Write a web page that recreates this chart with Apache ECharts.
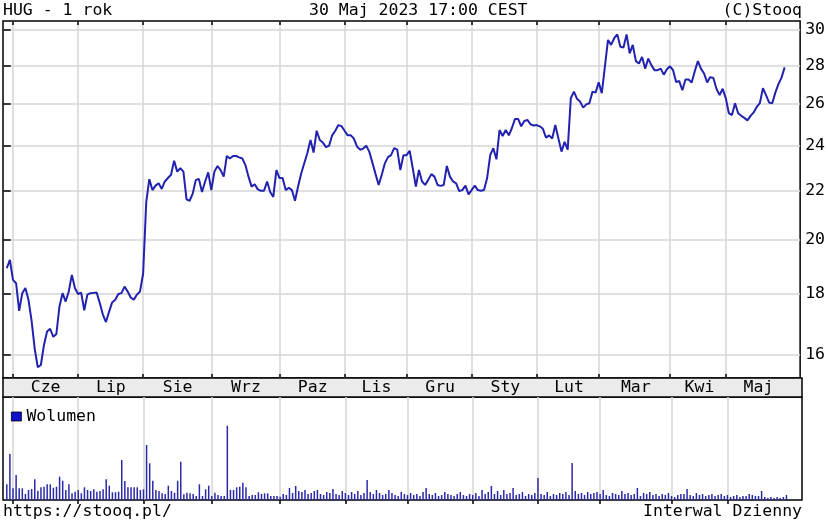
<!DOCTYPE html>
<html>
<head>
<meta charset="utf-8">
<script src="https://cdn.jsdelivr.net/npm/echarts@6/dist/echarts.min.js"></script>
<style>
html,body{margin:0;padding:0;background:#fff;}
#c{width:828px;height:525px;}
</style>
</head>
<body>
<div id="c"></div>
<script>
// ---- data (daily trading sessions, 30 May 2022 .. 30 May 2023) ----
const prices = [
 18.92,19.23,18.50,18.38,17.42,18.03,18.21,17.80,17.10,16.20,
 15.62,15.69,16.31,16.74,16.83,16.57,16.66,17.57,18.03,17.74,
 18.09,18.68,18.20,18.00,18.05,17.44,17.98,18.03,18.04,18.05,
 17.69,17.30,17.05,17.39,17.71,17.80,18.00,18.03,18.26,18.09,
 17.88,17.80,17.98,18.09,18.73,21.50,22.48,22.01,22.20,22.30,
 22.06,22.38,22.53,22.67,23.30,22.81,22.96,22.81,21.62,21.56,
 21.86,22.45,22.49,21.93,22.38,22.78,22.01,22.81,23.06,22.88,
 22.59,23.51,23.40,23.51,23.51,23.45,23.40,23.10,22.59,22.16,
 22.26,22.04,21.98,21.98,22.38,21.93,21.72,22.88,22.53,22.53,
 22.01,22.11,22.01,21.56,22.16,22.73,23.18,23.65,24.25,23.67,
 24.69,24.25,24.13,23.92,23.98,24.47,24.69,24.96,24.91,24.69,
 24.47,24.47,24.32,23.95,23.80,23.85,23.98,23.70,23.20,22.70,
 22.23,22.67,23.18,23.46,23.55,23.87,23.80,22.88,23.55,23.55,
 23.75,22.96,22.16,22.88,22.38,22.23,22.45,22.70,22.59,22.23,
 22.19,22.23,23.06,22.59,22.38,22.30,21.97,22.01,22.20,21.83,
 22.01,22.20,22.01,21.98,22.01,22.53,23.55,23.87,23.36,24.72,
 24.44,24.72,24.47,24.82,25.26,25.26,24.90,25.16,25.21,25.00,
 24.94,24.96,24.90,24.78,24.36,24.47,24.32,24.96,24.32,23.71,
 24.16,23.80,26.29,26.63,26.26,26.12,25.82,25.98,26.04,26.63,
 26.58,27.11,26.55,27.95,29.43,29.15,29.53,29.75,29.05,29.00,
 29.75,28.68,29.15,28.25,28.12,28.48,27.84,28.39,28.03,27.76,
 27.76,27.84,27.52,27.81,27.97,27.76,27.13,27.18,26.70,27.26,
 27.26,27.11,27.70,28.25,27.84,27.58,27.11,27.39,27.34,26.78,
 26.45,26.78,26.30,25.54,25.45,26.04,25.54,25.41,25.31,25.19,
 25.41,25.58,25.85,26.04,26.81,26.45,26.07,26.04,26.58,27.02,
 27.36,27.91
];
// volume (thousands of shares)
const volume = [
 15.7,46,11.7,25,11.7,11.7,6,10,11,20.7,
 9.3,12.7,13.3,15.7,15.7,12.3,13.3,23.3,19.3,10,
 15.7,6.7,8.3,10,6.7,12.7,10,9,10.7,8.3,
 9,10.7,20.7,14.3,7.7,7.7,8.3,40,19,12.7,
 12.7,12.7,12.7,10,10.7,55,36.7,19.3,10,9,
 6.7,6,14.3,9,7.3,19.3,38.3,5.7,7.3,6.7,
 6,4,15.7,4,10.7,14.3,4,7.3,5,4,
 4,74.3,10,10,12.7,13.3,17.3,12.7,4,5,
 5,7.7,6,6.7,6.7,4,4,4,3.3,6,
 5,12,7,14,9,8,10,6,7,9,
 10,6,5,8,7,11,6,5,9,7,
 5,8,6,9,5,7,20,8,6,10,
 7,5,6,10,7,5,4,8,6,5,
 7,5,6,4,8,12,6,5,7,4,
 5,8,6,5,4,6,8,5,4,6,
 5,7,4,10,6,8,14,6,9,5,
 10,6,7,12,5,6,8,4,6,5,
 7,22,6,5,8,4,6,5,7,6,
 8,5,37,9,6,7,5,8,6,7,
 8,6,10,5,4,7,6,5,9,6,
 7,5,6,12,4,7,6,8,5,6,
 4,6,5,7,4,3,5,6,6,11,
 5,4,7,5,6,4,5,6,4,5,
 6,4,5,3,4,5,3,4,4,6,
 5,4,4,9,3,2,3,2,3,2,
 3,5
];
const monthStarts = [2, 23, 44, 66, 88, 109, 129, 150, 171, 191, 214, 232];
const monthNames = ['Cze','Lip','Sie','Wrz','Paz','Lis','Gru','Sty','Lut','Mar','Kwi','Maj'];
const priceTicks = [16, 18, 20, 22, 24, 26, 28, 30];
const PRICE_MIN = 15.3, PRICE_MAX = 30.53;
const X_MIN = -1.22, X_MAX = 256.0;
const VOL_MAX = 103;

// ---- build ----
const FONT = 'DejaVu Sans Mono';
const FS = 16.5;
const monthMid = monthStarts.map((s, k) => (s + (k + 1 < monthStarts.length ? monthStarts[k + 1] : prices.length)) / 2);
const labelMap = {};
monthMid.forEach((m, k) => { labelMap[m.toFixed(2)] = monthNames[k]; });
const lnTicks = priceTicks.map(v => Math.log(v));
const gridLineStyle = { color: '#d6d6d6', width: 1.5 };
const tickStyle = { color: '#000', width: 1.5 };

const chart = echarts.init(document.getElementById('c'), null, { renderer: 'canvas' });
chart.setOption({
  animation: false,
  backgroundColor: '#fff',
  textStyle: { fontFamily: FONT },
  title: [
    { text: 'HUG - 1 rok', left: -2, top: -3, textStyle: { fontFamily: FONT, fontSize: FS, fontWeight: 'normal', color: '#000' } },
    { text: '30 Maj 2023 17:00 CEST', left: 304, top: -3, textStyle: { fontFamily: FONT, fontSize: FS, fontWeight: 'normal', color: '#000' } },
    { text: '(C)Stooq', right: 21, top: -3, textStyle: { fontFamily: FONT, fontSize: FS, fontWeight: 'normal', color: '#000' } },
    { text: 'https://stooq.pl/', left: -2, top: 498, textStyle: { fontFamily: FONT, fontSize: FS, fontWeight: 'normal', color: '#000' } },
    { text: 'Interwal Dzienny', right: 21, top: 498, textStyle: { fontFamily: FONT, fontSize: FS, fontWeight: 'normal', color: '#000' } }
  ],
  legend: {
    data: [{ name: 'Wolumen', itemStyle: { color: '#1010cc', borderColor: '#000', borderWidth: 0.8 } }],
    left: 6, top: 403, icon: 'rect', itemWidth: 10, itemHeight: 9,
    textStyle: { fontFamily: FONT, fontSize: FS, color: '#000', padding: [0, 0, 0, 0] },
    selectedMode: false
  },
  grid: [
    { left: 3, top: 21, width: 799, height: 357, show: true, borderColor: '#000', borderWidth: 1.5, backgroundColor: '#fff' },
    { left: 3, top: 397, width: 799, height: 103, show: true, borderColor: '#000', borderWidth: 1.5, backgroundColor: '#fff' },
    { left: 3, top: 378, width: 799, height: 19, show: true, borderColor: '#000', borderWidth: 1.5, backgroundColor: '#ebebeb' }
  ],
  xAxis: [
    { gridIndex: 0, type: 'value', min: X_MIN, max: X_MAX, position: 'bottom',
      axisLine: { show: false },
      axisTick: { show: true, inside: true, length: 4, customValues: monthStarts, lineStyle: tickStyle },
      axisLabel: { show: false },
      splitLine: { show: true, lineStyle: gridLineStyle } },
    { gridIndex: 0, type: 'value', min: X_MIN, max: X_MAX, position: 'top',
      axisLine: { show: false },
      axisTick: { show: true, inside: true, length: 4, customValues: monthStarts, lineStyle: tickStyle },
      axisLabel: { show: false }, splitLine: { show: false } },
    { gridIndex: 1, type: 'value', min: X_MIN, max: X_MAX, position: 'top',
      axisLine: { show: false },
      axisTick: { show: true, inside: true, length: 4, customValues: monthStarts, lineStyle: tickStyle },
      axisLabel: { show: false },
      splitLine: { show: true, lineStyle: gridLineStyle } },
    { gridIndex: 2, type: 'value', min: X_MIN, max: X_MAX, position: 'top', z: 10,
      axisLine: { show: false }, axisTick: { show: false }, splitLine: { show: false },
      axisLabel: { show: true, inside: true, margin: 1, customValues: monthMid,
        fontFamily: FONT, fontSize: FS, color: '#000',
        formatter: v => labelMap[Number(v).toFixed(2)] || '' } }
  ],
  yAxis: [
    { gridIndex: 0, type: 'value', min: Math.log(PRICE_MIN), max: Math.log(PRICE_MAX), position: 'right',
      axisLine: { show: false },
      axisTick: { show: true, inside: true, length: 4, customValues: lnTicks, lineStyle: tickStyle },
      axisLabel: { show: true, customValues: lnTicks, margin: 5, fontFamily: FONT, fontSize: FS, color: '#000',
        formatter: v => String(Math.round(Math.exp(v))) },
      splitLine: { show: true, lineStyle: gridLineStyle } },
    { gridIndex: 0, type: 'value', min: Math.log(PRICE_MIN), max: Math.log(PRICE_MAX), position: 'left',
      axisLine: { show: false },
      axisTick: { show: true, inside: true, length: 4, customValues: lnTicks, lineStyle: tickStyle },
      axisLabel: { show: false }, splitLine: { show: false } },
    { gridIndex: 1, type: 'value', min: 0, max: VOL_MAX,
      axisLine: { show: false }, axisTick: { show: false }, axisLabel: { show: false }, splitLine: { show: false } },
    { gridIndex: 2, type: 'value', min: 0, max: 1, show: false }
  ],
  series: [
    { name: 'HUG', type: 'line', xAxisIndex: 0, yAxisIndex: 0, showSymbol: false, symbol: 'none',
      data: prices.map((p, i) => [i, Math.log(p)]),
      lineStyle: { color: '#2222b0', width: 2 }, z: 5 },
    { name: 'Wolumen', type: 'bar', xAxisIndex: 2, yAxisIndex: 2, barWidth: 1.5,
      data: volume.map((v, i) => [i, v]),
      itemStyle: { color: '#2a2aa8' } }
  ]
});
</script>
</body>
</html>
